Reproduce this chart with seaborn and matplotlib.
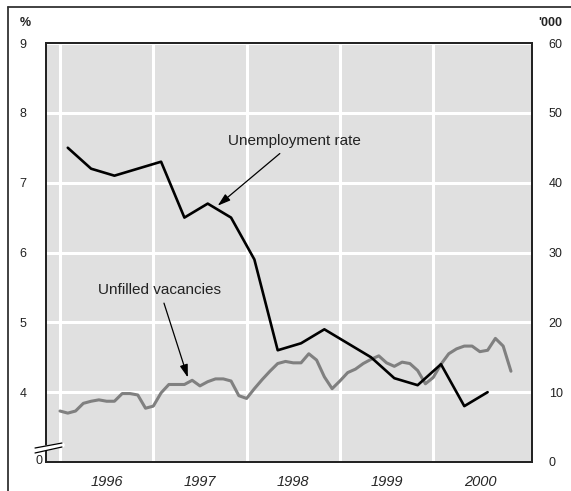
import numpy as np
import pandas as pd
import seaborn as sns
import matplotlib.pyplot as plt
from matplotlib.lines import Line2D

# unemployment rate, quarterly (%), left axis
unemp_month = [1, 4, 7, 10, 13, 16, 19, 22, 25, 28, 31, 34, 37, 40, 43, 46, 49, 52, 55]
unemp_rate = [7.5, 7.2, 7.1, 7.2, 7.3, 6.5, 6.7, 6.5, 5.9, 4.6, 4.7, 4.9,
              4.7, 4.5, 4.2, 4.1, 4.4, 3.8, 4.0]

# unfilled vacancies, monthly ('000), right axis, from Jan 1996
vacancies = [7.3, 7.0, 7.3, 8.4, 8.7, 8.9, 8.7, 8.7, 9.8, 9.8, 9.6, 7.7,
             8.0, 9.9, 11.1, 11.1, 11.1, 11.7, 10.9, 11.5, 11.9, 11.9, 11.6, 9.5,
             9.1, 10.5, 11.8, 13.0, 14.1, 14.4, 14.2, 14.2, 15.5, 14.6, 12.2, 10.5,
             11.6, 12.8, 13.3, 14.1, 14.7, 15.2, 14.2, 13.7, 14.3, 14.1, 13.1, 11.2,
             12.1, 14.0, 15.5, 16.2, 16.6, 16.6, 15.8, 16.0, 17.7, 16.6, 13.0]

years = [1996, 1997, 1998, 1999, 2000]
left_ticks = [4, 5, 6, 7, 8, 9]
right_ticks = [0, 10, 20, 30, 40, 50, 60]

df_u = pd.DataFrame({'t': 1996 + np.array(unemp_month) / 12, 'rate': unemp_rate})
df_v = pd.DataFrame({'t': 1996 + np.arange(len(vacancies)) / 12, 'vac': vacancies})

sns.set_style('white')
plt.rcParams['font.family'] = ['Liberation Sans', 'DejaVu Sans']

fig = plt.figure(figsize=(5.71, 4.91), dpi=100)
ax = fig.add_axes([46 / 571, 1 - 462 / 491, 486 / 571, 419 / 491])
ax2 = ax.twinx()

# bottom axes: background, grid and vacancies (right scale)
ax.set_facecolor('#e0e0e0')
sns.lineplot(data=df_v, x='t', y='vac', ax=ax, color='#808080', linewidth=2.2)
ax.set_ylim(0, 60)
ax.set_xlim(1996 + (46 - 60) / 93.3, 1996 + (532 - 60) / 93.3)
ax.yaxis.tick_right()
ax.yaxis.set_label_position('right')
ax.set_yticks(right_ticks)
ax.set_xticks([y + 0.5 for y in years])
ax.set_xticklabels([str(y) for y in years], fontstyle='italic', fontsize=10.5)
ax.set_xticks(years, minor=True)
ax.grid(True, which='minor', axis='x', color='white', linewidth=2.2)
ax.grid(True, which='major', axis='y', color='white', linewidth=2.2)
ax.grid(False, which='major', axis='x')
ax.tick_params(axis='x', which='both', length=0, pad=9)
ax.tick_params(axis='y', length=0, pad=12, labelsize=9, labelcolor='#222222')
ax.set_xlabel('')
ax.set_ylabel('')

# top axes: unemployment rate (left scale)
ax2.patch.set_visible(False)
sns.lineplot(data=df_u, x='t', y='rate', ax=ax2, color='black', linewidth=1.9)
ax2.set_ylim(3, 9)
ax2.yaxis.tick_left()
ax2.set_yticks(left_ticks)
ax2.tick_params(axis='y', length=0, pad=14, labelsize=9, labelcolor='#222222')
ax2.set_ylabel('')
ax2.grid(False)

for a in (ax, ax2):
    for s in a.spines.values():
        s.set_color('#222222')
        s.set_linewidth(1.3)

arrow = dict(arrowstyle='-|>,head_length=0.7,head_width=0.22', color='black', lw=0.9,
             shrinkA=2, shrinkB=0)
ax2.annotate('Unemployment rate', xy=(1997.69, 6.67), xytext=(1998.51, 7.59),
             ha='center', va='center', fontsize=11, color='#222222', arrowprops=arrow)
ax2.annotate('Unfilled vacancies', xy=(1997.37, 4.21), xytext=(1997.07, 5.46),
             ha='center', va='center', fontsize=11, color='#222222', arrowprops=arrow)

# axis break marks and the "0" of the left scale
ax2.add_line(Line2D([-0.0226, 0.0329], [0.028, 0.0405], transform=ax2.transAxes,
                    color='white', linewidth=4, clip_on=False, zorder=5))
ax2.add_line(Line2D([-0.0226, 0.0329], [0.0334, 0.0453], transform=ax2.transAxes,
                    color='black', linewidth=0.9, clip_on=False, zorder=6))
ax2.add_line(Line2D([-0.0226, 0.0329], [0.0215, 0.0358], transform=ax2.transAxes,
                    color='black', linewidth=0.9, clip_on=False, zorder=6))
ax2.text(-0.0144, 0.003, '0', transform=ax2.transAxes, ha='center', va='center',
         fontsize=9, color='#222222')

# units
fig.text(25 / 571, 1 - 23 / 491, '%', ha='center', va='center', fontsize=9,
         fontweight='bold', color='#222222')
fig.text(550 / 571, 1 - 23 / 491, "'000", ha='center', va='center', fontsize=9,
         fontweight='bold', color='#222222')

# outer frame
fig.add_artist(Line2D([8 / 571, 8 / 571], [0, 1 - 7 / 491], transform=fig.transFigure,
                      color='#333333', linewidth=1.3))
fig.add_artist(Line2D([8 / 571, 1], [1 - 7 / 491, 1 - 7 / 491], transform=fig.transFigure,
                      color='#333333', linewidth=1.3))

fig.savefig('out.png', dpi=100)
